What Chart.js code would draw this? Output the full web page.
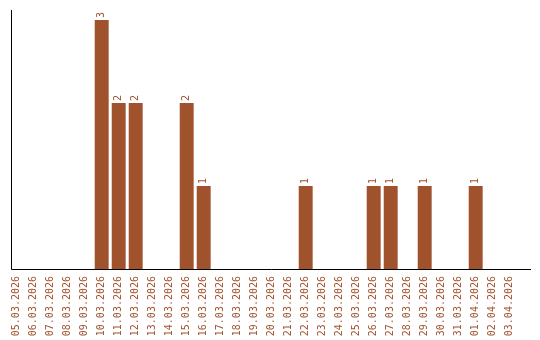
<!DOCTYPE html>
<html>
<head>
<meta charset="utf-8">
<script src="https://cdn.jsdelivr.net/npm/chart.js@4"></script>
<style>
  html, body { margin: 0; padding: 0; background: #fff; }
  #wrap { width: 540px; height: 340px; }
</style>
</head>
<body>
<div id="wrap"><canvas id="myChart" width="540" height="340"></canvas></div>
<script>
const dates = [
  "05.03.2026", "06.03.2026", "07.03.2026", "08.03.2026", "09.03.2026",
  "10.03.2026", "11.03.2026", "12.03.2026", "13.03.2026", "14.03.2026",
  "15.03.2026", "16.03.2026", "17.03.2026", "18.03.2026", "19.03.2026",
  "20.03.2026", "21.03.2026", "22.03.2026", "23.03.2026", "24.03.2026",
  "25.03.2026", "26.03.2026", "27.03.2026", "28.03.2026", "29.03.2026",
  "30.03.2026", "31.03.2026", "01.04.2026", "02.04.2026", "03.04.2026"
];
const counts = [
  0, 0, 0, 0, 0,
  3, 2, 2, 0, 0,
  2, 1, 0, 0, 0,
  0, 0, 1, 0, 0,
  0, 1, 1, 0, 1,
  0, 0, 1, 0, 0
];

const brown = "#A0522D";
const monoFont = "'DejaVu Sans Mono', 'Liberation Mono', monospace";

// axis lines sit a bit off the category grid in the original
const axisLines = {
  id: "axisLines",
  afterDraw(chart) {
    const ctx = chart.ctx;
    const area = chart.chartArea;
    const x0 = 11.5, yb = area.bottom + 0.5;
    ctx.save();
    ctx.strokeStyle = "#000";
    ctx.lineWidth = 1;
    ctx.beginPath();
    ctx.moveTo(x0, area.top);
    ctx.lineTo(x0, yb);
    ctx.lineTo(531, yb);
    ctx.stroke();
    ctx.restore();
  }
};

// value labels above bars, rotated like the ticks
const valueLabels = {
  id: "valueLabels",
  afterDatasetsDraw(chart) {
    const ctx = chart.ctx;
    const meta = chart.getDatasetMeta(0);
    ctx.save();
    ctx.fillStyle = brown;
    ctx.font = "10px " + monoFont;
    ctx.textAlign = "left";
    ctx.textBaseline = "middle";
    meta.data.forEach((bar, i) => {
      const v = counts[i];
      if (!v) return;
      ctx.save();
      ctx.translate(bar.x, bar.y - 2);
      ctx.rotate(-Math.PI / 2);
      ctx.fillText(String(v), 0, 0);
      ctx.restore();
    });
    ctx.restore();
  }
};

new Chart(document.getElementById("myChart"), {
  type: "bar",
  data: {
    labels: dates,
    datasets: [{
      data: counts,
      backgroundColor: brown,
      borderWidth: 0,
      barPercentage: 0.82,
      categoryPercentage: 1
    }]
  },
  options: {
    responsive: false,
    animation: false,
    layout: { padding: { left: 8.2, right: 21.8, top: 10, bottom: 0 } },
    plugins: { legend: { display: false }, tooltip: { enabled: false } },
    scales: {
      x: {
        offset: true,
        grid: { display: false, drawTicks: false },
        border: { display: false },
        afterFit(scale) { scale.height = 71; },
        ticks: {
          color: brown,
          font: { family: monoFont, size: 10 },
          minRotation: 90,
          maxRotation: 90,
          autoSkip: false,
          padding: 7
        }
      },
      y: {
        display: false,
        min: 0,
        max: 3.12
      }
    }
  },
  plugins: [axisLines, valueLabels]
});
</script>
</body>
</html>
